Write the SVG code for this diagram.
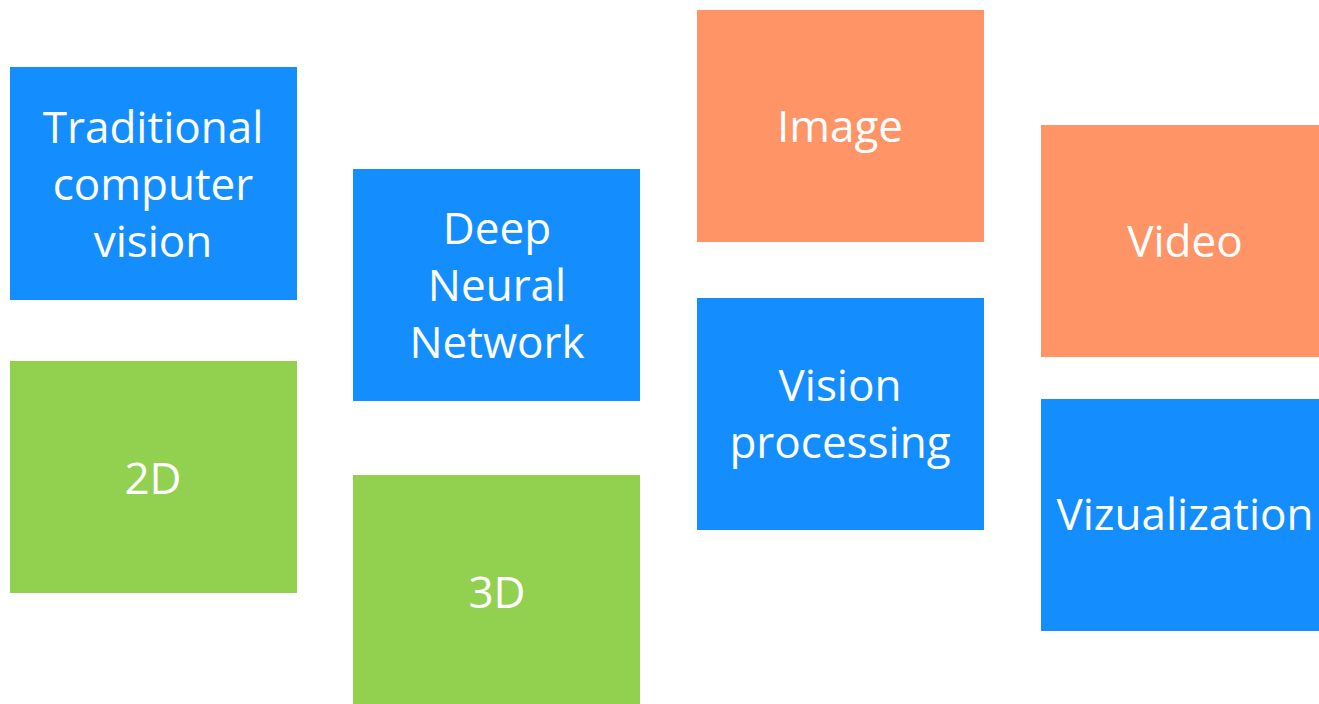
<svg xmlns="http://www.w3.org/2000/svg" width="1319" height="704" viewBox="0 0 1319 704">
<style>
.b{fill:#148EFF}.g{fill:#92D050}.o{fill:#FF9467}
text{font-family:"Open Sans","Noto Sans",sans-serif;font-size:44px;fill:#fff;text-anchor:middle}
</style>
<rect width="1319" height="704" fill="#fff"/>
<g id="n1"><rect class="b" x="10" y="67" width="287" height="233"/><text x="153" y="143">Traditional</text><text x="153" y="200">computer</text><text x="153" y="257">vision</text></g>
<g id="n2"><rect class="g" x="10" y="361" width="287" height="232"/><text x="153" y="494">2D</text></g>
<g id="n3"><rect class="b" x="353" y="169" width="287" height="232"/><text x="497" y="244">Deep</text><text x="497" y="301">Neural</text><text x="497" y="358">Network</text></g>
<g id="n4"><rect class="g" x="353" y="475" width="287" height="229"/><text x="497" y="608">3D</text></g>
<g id="n5"><rect class="o" x="697" y="10" width="287" height="232"/><text x="840" y="142">Image</text></g>
<g id="n6"><rect class="b" x="697" y="298" width="287" height="232"/><text x="840" y="401">Vision</text><text x="840" y="458">processing</text></g>
<g id="n7"><rect class="o" x="1041" y="125" width="278" height="232"/><text x="1185" y="257">Video</text></g>
<g id="n8"><rect class="b" x="1041" y="399" width="278" height="232"/><text x="1185" y="530">Vizualization</text></g>
<g id="connectors"/>
</svg>
